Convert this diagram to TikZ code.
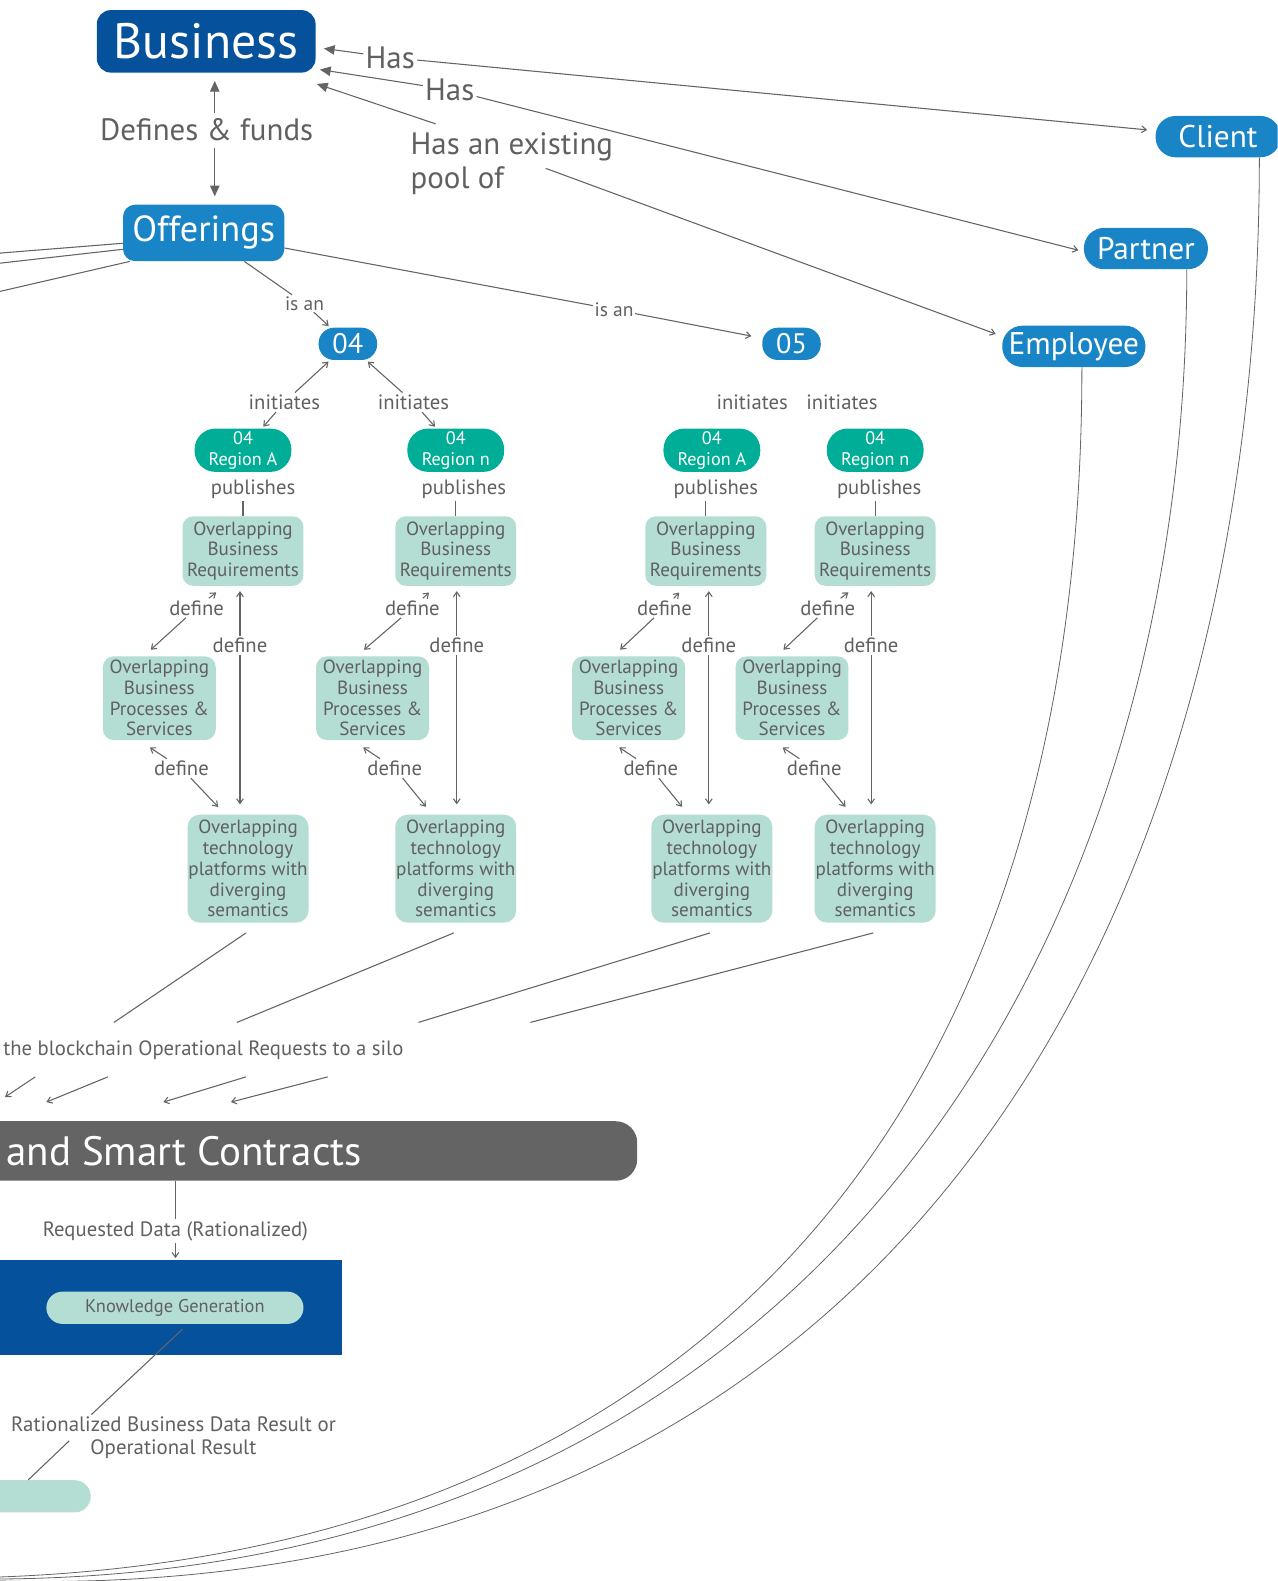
\documentclass[tikz,border=0pt]{standalone}
\usepackage{fontspec}
\setmainfont{PT Sans}
\usetikzlibrary{arrows.meta,calc}
\definecolor{dblue}{RGB}{5,81,155}
\definecolor{mblue}{RGB}{26,133,198}
\definecolor{rteal}{RGB}{0,174,151}
\definecolor{lteal}{RGB}{180,221,212}
\definecolor{txtg}{RGB}{96,96,96}
\definecolor{lineg}{RGB}{100,100,100}
\definecolor{barg}{RGB}{100,100,100}
\newcommand\fs[2]{\fontsize{#1}{#2}\selectfont}

\tikzset{
  sz/.style 2 args={minimum width=#1*0.75pt, minimum height=#2*0.75pt},
  bizn/.style={fill=dblue, text=white, rounded corners=10.5pt, inner sep=0pt, font=\fs{37}{42}},
  offn/.style={fill=mblue, text=white, rounded corners=9pt, inner sep=0pt, font=\fs{27}{32}},
  actn/.style={fill=mblue, text=white, rounded corners=15pt, inner sep=0pt, font=\fs{23.3}{27}},
  numn/.style={fill=mblue, text=white, rounded corners=11.5pt, inner sep=0pt, font=\fs{21}{25}},
  regn/.style={fill=rteal, text=white, rounded corners=15.5pt, inner sep=0pt, align=center, font=\fs{13.5}{15.8}},
  ltn/.style={fill=lteal, text=txtg, rounded corners=8pt, inner sep=0pt, align=center, font=\fs{14.2}{15.4}},
  lbl/.style={text=txtg, inner sep=1.5pt, font=\fs{15.4}{18}},
  biglbl/.style={text=txtg, inner sep=1.5pt, font=\fs{23}{25.5}},
  smlbl/.style={text=txtg, inner sep=1pt, font=\fs{14.5}{16}},
  conn/.style={draw=lineg, line width=0.8pt},
  arr/.style={conn, -{Straight Barb[length=3.5pt,width=5pt]}, shorten >=1.5pt},
  bigarr/.style={conn, -{Triangle[length=8pt,width=7pt]}},
  curve/.style={draw=lineg, line width=0.6pt}
}

% one region column
\newcommand\regcol[9]{%
  \node[regn, sz={96}{43}] (reg#1) at (#2,446.5) {04\\Region #7};
  \node[ltn, sz={120}{69}] (req#1) at (#3,546.5) {Overlapping\\Business\\Requirements};
  \node[ltn, sz={112}{83}] (proc#1) at (#4,692.5) {Overlapping\\Business\\Processes \&\\Services};
  \node[ltn, sz={120}{107}, rounded corners=9pt] (tech#1) at (#5,861.5) {Overlapping\\technology\\platforms with\\diverging\\semantics};
  \node[lbl] (pub#1) at (#8,485) {publishes};
  \draw[conn] (pub#1.south -| req#1.north) -- (req#1.north);
  \node[lbl] (dA#1) at (#9,603) {define};
  \draw[arr] (dA#1) -- ($(req#1.south)+(-25,5)$);
  \draw[arr] (dA#1) -- ($(proc#1.north)+(-10,-5)$);
  \node[lbl] (dB#1) at (#6,640) {define};
  \draw[arr, shorten >=3.75pt] (dB#1) -- (dB#1 |- req#1.south);
  \draw[arr, shorten >=7.5pt] (dB#1) -- (dB#1 |- tech#1.north);
  \node[lbl] (dC#1) at ({#4+22},762) {define};
  \draw[arr] (dC#1) -- ($(proc#1.south)+(-11,6)$);
  \draw[arr] (dC#1) -- ($(tech#1.north west)+(32,-6)$);
}

\begin{document}
\begin{tikzpicture}[x=0.75pt,y=-0.75pt]
\useasboundingbox (0,0) rectangle (1267,1568);
\clip (0,0) rectangle (1267,1568);

% ---- top concepts
\node[bizn, sz={217}{62}] (bus) at (204.5,41) {Business};
\node[offn, sz={160}{56}] (off) at (202,231) {Offerings};
\node[actn, sz={124}{41}] (client) at (1208,135.5) {Client};
\node[actn, sz={123}{41}] (partner) at (1136.5,246.5) {Partner};
\node[actn, sz={142}{41}] (emp) at (1065,343.5) {Employee};
\node[numn, sz={58}{32}] (n04) at (345,341) {04};
\node[numn, sz={58}{32}] (n05) at (785,341) {05};

% ---- region columns
\regcol{1}{241}{241}{158}{246}{238}{A}{251}{195}
\regcol{2}{452}{452}{369.5}{452}{453}{n}{460}{409}
\regcol{3}{706}{700}{623.5}{706}{703}{A}{710}{659}
\regcol{4}{868}{868}{785.5}{868}{864}{n}{872}{821}

% ---- top labels
\node[biglbl] (df) at (205,129) {Defines \& funds};
\node[biglbl] (has1) at (387,57) {Has};
\node[biglbl] (has2) at (446,89) {Has};
\node[biglbl, anchor=west, align=left, inner sep=0pt] (hasE) at (407,162) {Has an existing\\pool of};
\node[smlbl] (isan1) at (302,301) {is an};
\node[smlbl] (isan2) at (609,307) {is an};
\node[lbl] (ini1) at (282,399) {initiates};
\node[lbl] (ini2) at (410,399) {initiates};
\node[lbl] (ini3) at (746,399) {initiates};
\node[lbl] (ini4) at (835,399) {initiates};

% ---- top connectors
\draw[bigarr] ($(df.north)+(8,-4)$) -- ($(bus.south)+(8.5,8)$);
\draw[bigarr] ($(df.south)+(8,4)$) -- ($(off.north)+(11,-8)$);
\draw[bigarr, shorten >=6pt] (has1) -- ($(bus.east)+(0,6)$);
\draw[arr, shorten >=6pt] (has1) -- (client);
\draw[bigarr] (has2) -- ($(bus.east)+(4,28)$);
\draw[arr, shorten >=4pt] (has2) -- ($(partner.west)+(0,3)$);
\draw[bigarr] ($(hasE.north west)+(25,-8)$) -- ($(bus.south east)+(1,11)$);
\draw[arr, shorten >=5pt] ($(hasE.east)+(-67,5)$) -- ($(emp.west)+(0,-10)$);
\draw[conn] (off) -- (isan1);
\draw[arr] (isan1) -- (n04);
\draw[conn] (off) -- (isan2);
\draw[arr, shorten >=8pt] (isan2) -- (n05);
\draw[arr] (ini1) -- (n04);
\draw[arr] (ini1) -- (reg1);
\draw[arr] (ini2) -- (n04);
\draw[arr] (ini2) -- (reg2);

% lines leaving Offerings to the left
\coordinate (oL1) at (0,251);
\coordinate (oL2) at (0,261);
\coordinate (oL3) at (0,289);
\draw[conn] ($(off.south west)+(0,-18)$) -- (oL1);
\draw[conn] ($(off.south west)+(0,-12)$) -- (oL2);
\draw[conn] ($(off.south west)+(7,0)$) -- (oL3);

% ---- lower part
\coordinate (q1) at (113,1014);
\coordinate (q2) at (235,1014);
\coordinate (q3) at (415,1014);
\coordinate (q4) at (526,1014);
\foreach \i in {1,2,3,4}{\draw[conn] ($(tech\i.south)+(-2,10)$) -- (q\i);}
\node[lbl, anchor=west, inner sep=0pt] (silo) at (3,1042) {the blockchain Operational Requests to a silo};
\coordinate (s1) at (35,1068);  \coordinate (t1) at (5,1088);
\coordinate (s2) at (107,1068); \coordinate (t2) at (46,1093);
\coordinate (s3) at (244,1068); \coordinate (t3) at (162,1093);
\coordinate (s4) at (325,1068); \coordinate (t4) at (229,1093);
\foreach \i in {1,2,3,4}{\draw[arr, shorten >=0pt] (s\i) -- (t\i);}

\node[fill=barg, rounded corners=16pt, sz={672}{59}, inner sep=0pt] (bar) at (296,1141.5) {};
\node[anchor=west, text=white, inner sep=0pt, font=\fs{30.5}{34}] (sct) at (6,1142) {and Smart Contracts};

\node[lbl] (rq) at (174,1221) {Requested Data (Rationalized)};
\draw[conn] (rq.north |- bar.south) -- (rq.north);
\node[fill=dblue, sz={359}{94}, inner sep=0pt] (kbox) at (159.5,1297) {};
\draw[arr] (rq.south) -- (rq.south |- kbox.north);
\node[fill=lteal, text=txtg, rounded corners=12pt, sz={255}{32}, inner sep=0pt, font=\fs{13.7}{16}] (kg) at (173.5,1297) {Knowledge Generation};

\node[lbl, align=center, font=\fs{15.5}{17.2}] (rbd) at (172,1426) {Rationalized Business Data Result or\\Operational Result};
\node[fill=lteal, rounded corners=12pt, sz={130}{32}, inner sep=0pt] (rpill) at (25,1484) {};
\draw[conn] ($(kg.south)+(7.5,5)$) -- ($(rbd.north west)+(82,0)$);
\draw[conn] ($(rbd.west)+(60,3)$) -- ($(rpill.north)+(3,0)$);

% ---- long curves from the actors
\coordinate (e1) at (0,1564);
\coordinate (e2) at (0,1566);
\coordinate (e3) at (0,1568);
\draw[curve] ($(emp.south)+(8,0)$) .. controls (1073,1150) and (650,1540) .. (e1);
\draw[curve] ($(partner.south)+(40.5,0)$) .. controls (1177,950) and (800,1560) .. (e2);
\draw[curve] ($(client.south)+(41,0)$) .. controls (1249,900) and (900,1590) .. (e3);
\end{tikzpicture}
\end{document}
